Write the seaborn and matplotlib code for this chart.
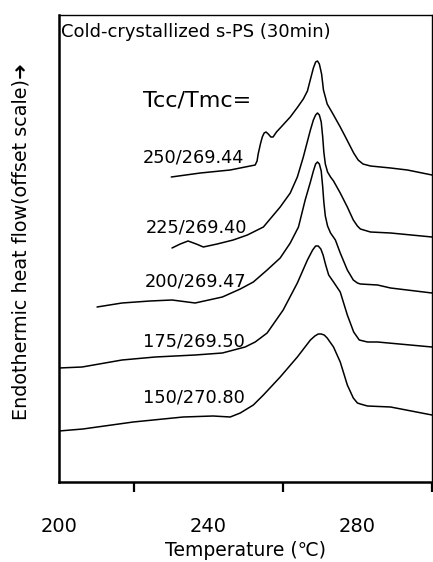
import matplotlib
matplotlib.use("Agg")
import matplotlib.pyplot as plt
import seaborn as sns
import pandas as pd

# ---- data (y = offset heat flow, arbitrary units) ----
labels = ["250/269.44", "225/269.40", "200/269.47", "175/269.50", "150/270.80"]

t_250 = [230.1, 237.9, 245.9, 252.6, 253.1, 253.4, 254.0, 254.5, 255.0, 255.5, 256.1,
         256.8, 257.4, 258.3, 259.3, 262.0, 264.0, 265.5, 266.6, 267.5, 268.2, 268.8,
         269.3, 269.8, 270.4, 270.9, 271.9, 273.3, 275.4, 276.8, 279.0, 280.2, 281.5,
         283.5, 288.9, 293.4, 300.0]
y_250 = [305, 309, 312, 317, 321, 328, 338, 345, 349, 350, 348,
         345, 345, 350, 354, 365, 375, 383, 391, 404, 414, 420,
         421, 418, 408, 392, 378, 369, 355, 345, 329, 322, 318,
         316, 314, 312, 307]

t_225 = [230.3, 232.5, 234.6, 236.8, 238.7, 242.4, 246.7, 250.5, 254.8, 259.3, 262.0,
         263.9, 265.5, 267.4, 268.2, 268.8, 269.3, 269.8, 270.3, 270.7, 271.0, 271.4,
         272.0, 272.8, 273.6, 275.4, 277.3, 278.9, 280.0, 280.8, 283.5, 288.9, 300.0]
y_225 = [234, 238, 241, 238, 235, 238, 242, 247, 255, 275, 289,
         305, 325, 352, 362, 367, 369, 367, 360, 345, 330, 318,
         310, 305, 301, 289, 275, 262, 256, 253, 250, 249, 245]

t_200 = [210.2, 216.9, 224.4, 230.3, 236.5, 243.8, 248.6, 252.1, 255.8, 259.3, 262.0,
         264.2, 266.0, 267.4, 268.2, 268.8, 269.3, 269.8, 270.3, 270.7, 271.0, 271.4,
         272.0, 272.8, 274.1, 275.4, 277.3, 278.9, 280.0, 280.8, 285.4, 288.9, 300.0]
y_200 = [175, 179, 181, 182, 179, 185, 193, 200, 212, 224, 239,
         255, 282, 300, 311, 318, 320, 318, 311, 295, 280, 266,
         256, 249, 242, 229, 212, 202, 199, 198, 197, 194, 189]

t_175 = [200.0, 206.2, 216.9, 225.8, 236.5, 243.8, 249.9, 252.6, 255.8, 260.1, 263.9,
         266.6, 268.0, 268.8, 269.5, 270.2, 270.8, 271.5, 272.3, 273.6, 275.4, 277.3,
         279.0, 280.5, 282.7, 285.4, 300.0]
y_175 = [114, 115, 122, 125, 127, 129, 135, 140, 149, 172, 199,
         222, 232, 236, 236, 233, 227, 217, 207, 200, 190, 167,
         150, 142, 140, 140, 135]

t_150 = [200.0, 206.4, 219.9, 233.3, 241.3, 245.9, 248.6, 252.1, 254.8, 259.3, 263.9,
         267.4, 268.6, 269.5, 270.3, 271.1, 271.9, 273.6, 275.4, 277.3, 278.9, 280.0,
         280.8, 282.7, 288.9, 300.0]
y_150 = [51, 53, 60, 65, 66, 65, 69, 77, 87, 105, 125,
         142, 146, 148, 148, 147, 144, 135, 120, 97, 84, 79,
         78, 76, 75, 67]

# label anchor positions (temperature, offset heat flow)
label_t = [222.5, 223.3, 223.0, 222.5, 222.5]
label_y = [324, 255, 200, 141, 84]

x_ticks = [200, 240, 280]
x_minor = [220, 260, 300]

series = [(t_250, y_250), (t_225, y_225), (t_200, y_200), (t_175, y_175), (t_150, y_150)]
frames = []
for lab, (t, y) in zip(labels, series):
    frames.append(pd.DataFrame({"T": t, "H": y, "run": lab}))
df = pd.concat(frames, ignore_index=True)

sns.set_theme(style="white")
plt.rcParams["font.family"] = ["DejaVu Sans"]
plt.rcParams["text.color"] = "black"
plt.rcParams["axes.labelcolor"] = "black"
plt.rcParams["xtick.color"] = "black"

fig = plt.figure(figsize=(4.33, 5.62), dpi=100)
ax = fig.add_axes([59 / 433, 80 / 562, 373 / 433, 467 / 562])

sns.lineplot(data=df, x="T", y="H", hue="run", units="run", estimator=None, sort=False,
             palette=["black"] * len(labels), linewidth=1.1, legend=False, ax=ax)

ax.set_xlim(200, 300)
ax.set_ylim(0, 467)
ax.set_xticks(x_ticks)
ax.set_xticks(x_minor, minor=True)
ax.set_yticks([])
ax.tick_params(axis="x", which="major", direction="out", length=14, width=1.6,
               labelsize=14, pad=11, colors="black")
ax.tick_params(axis="x", which="minor", direction="out", length=7, width=1.6,
               bottom=True)
for s in ax.spines.values():
    s.set_color("black")
    s.set_linewidth(1.0)
ax.spines["left"].set_linewidth(1.8)
ax.spines["bottom"].set_linewidth(1.8)

ax.set_xlabel("Temperature (\u2103)", fontsize=13.5, labelpad=4, color="black")
ax.set_ylabel("")

fig.text(0.048, 0.57, "Endothermic heat flow(offset scale)\u279C", rotation=90,
         ha="center", va="center", fontsize=13.8, color="black")

ax.text(200.5, 450, "Cold-crystallized s-PS (30min)", ha="left", va="center",
        fontsize=13, color="black")
ax.text(222.5, 382, "Tcc/Tmc=", ha="left", va="center", fontsize=16, color="black")
for lab, tx, ty in zip(labels, label_t, label_y):
    ax.text(tx, ty, lab, ha="left", va="center", fontsize=12.8, color="black")

fig.savefig("out.png", dpi=100)
